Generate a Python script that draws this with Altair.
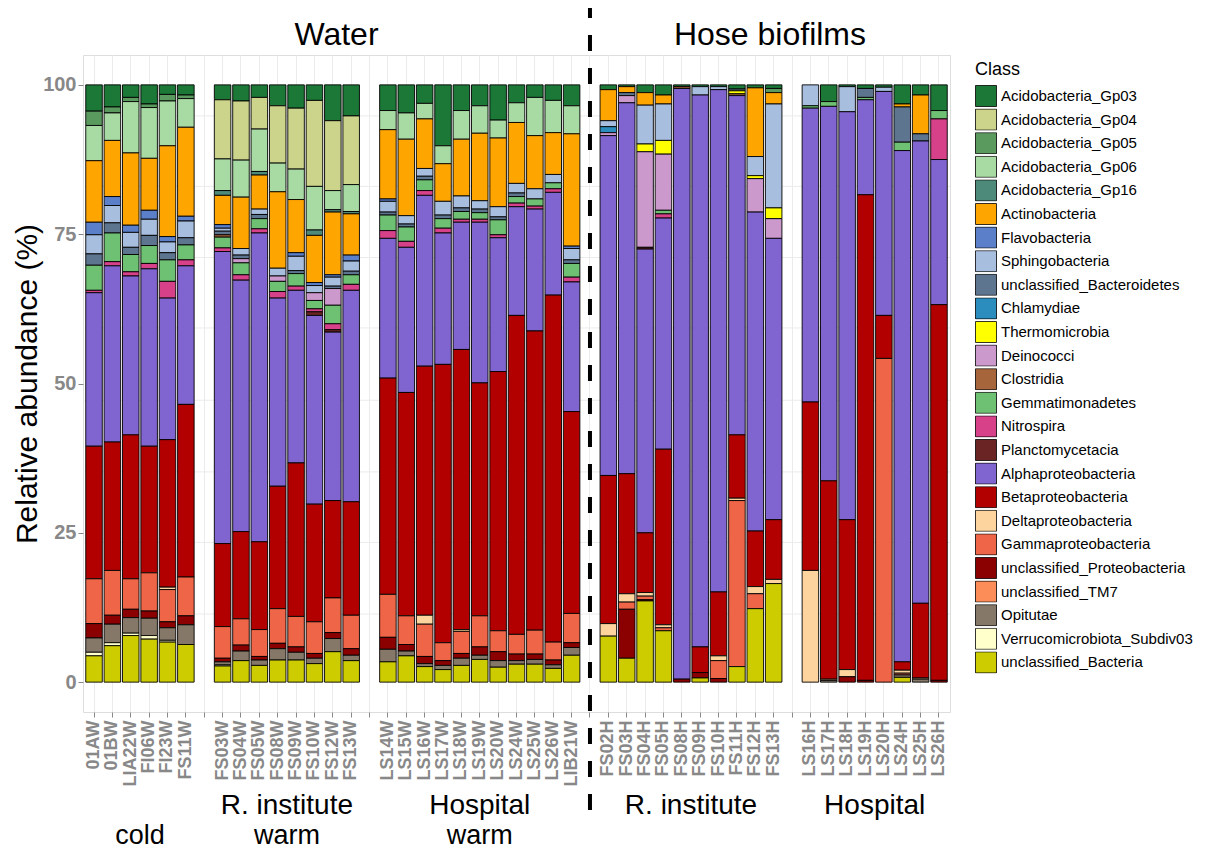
import altair as alt
import pandas as pd

# ---------------- categories ----------------
cold = ["01AW", "01BW", "LIA22W", "FI06W", "FI23W", "FS11W"]
r_warm = ["FS03W", "FS04W", "FS05W", "FS08W", "FS09W", "FS10W", "FS12W", "FS13W"]
h_warm = ["LS14W", "LS15W", "LS16W", "LS17W", "LS18W", "LS19W", "LS20W", "LS24W", "LS25W", "LS26W", "LIB21W"]
r_hose = ["FS02H", "FS03H", "FS04H", "FS05H", "FS08H", "FS09H", "FS10H", "FS11H", "FS12H", "FS13H"]
h_hose = ["LS16H", "LS17H", "LS18H", "LS19H", "LS20H", "LS24H", "LS25H", "LS26H"]
samples = cold + r_warm + h_warm + r_hose + h_hose
gaps = [" ", "  ", "   ", "    "]
x_domain = cold + [gaps[0]] + r_warm + [gaps[1]] + h_warm + [gaps[2]] + r_hose + [gaps[3]] + h_hose

classes = ["Acidobacteria_Gp03", "Acidobacteria_Gp04", "Acidobacteria_Gp05", "Acidobacteria_Gp06",
           "Acidobacteria_Gp16", "Actinobacteria", "Flavobacteria", "Sphingobacteria",
           "unclassified_Bacteroidetes", "Chlamydiae", "Thermomicrobia", "Deinococci", "Clostridia",
           "Gemmatimonadetes", "Nitrospira", "Planctomycetacia", "Alphaproteobacteria",
           "Betaproteobacteria", "Deltaproteobacteria", "Gammaproteobacteria",
           "unclassified_Proteobacteria", "unclassified_TM7", "Opitutae",
           "Verrucomicrobiota_Subdiv03", "unclassified_Bacteria"]
colors = ["#1b7837", "#ccd38a", "#5a9a5e", "#a8dba3", "#4d8a7a", "#ffa500", "#5b7fc8", "#a8bedf",
          "#5e7590", "#2b8cbe", "#ffff00", "#cc99cc", "#a6653a", "#6ec072", "#d6418a", "#6b2424",
          "#8064d0", "#b20000", "#fdd49e", "#ef6548", "#8b0000", "#fc8d59", "#857868", "#ffffcc",
          "#cccc00"]

# ---------------- values (%), one list per class, samples in order above ----------------
gp03 = [4.4, 3.7, 2.1, 3.2, 1.6, 1.7,
        2.5, 2.7, 2.1, 3.5, 3.9, 2.6, 6.0, 5.2,
        4.3, 4.7, 3.1, 10.2, 4.3, 3.5, 5.9, 3.0, 2.1, 2.6, 3.5,
        0.8, 0.3, 1.3, 1.7, 0.3, 0.3, 0.3, 0.7, 0.5, 0.6,
        0, 2.8, 0.3, 0.6, 0.4, 3.2, 1.7, 4.3]
gp04 = [0, 0, 0, 0, 0, 0,
        9.9, 9.9, 5.3, 9.6, 10.2, 14.4, 11.7, 11.5,
        0, 0, 0, 0, 0, 0, 0, 0, 0, 0, 0,
        0, 0, 0, 0, 0, 0, 0, 0, 0, 0,
        0, 0, 0, 0, 0, 0, 0, 0]
gp05 = [2.4, 1.0, 0.7, 0.6, 1.1, 0.6,
        0, 0, 0, 0, 0, 0, 0, 0,
        0, 0, 0, 0, 0, 0, 0, 0, 0, 0, 0,
        0, 0, 0, 0, 0, 0, 0, 0, 0, 0.7,
        0, 0, 0, 0, 0, 0, 0, 0]
gp06 = [5.9, 4.6, 8.6, 8.5, 7.5, 4.8,
        5.3, 6.2, 7.1, 4.8, 5.1, 7.3, 3.2, 4.5,
        3.2, 4.4, 2.6, 3.0, 4.8, 4.6, 3.0, 3.3, 6.4, 5.4, 4.7,
        0, 0, 0, 0, 0, 0, 0, 0, 0, 0,
        0, 0, 0, 0, 0, 0, 0, 0]
gp16 = [0, 0, 0, 0, 0, 0,
        0.8, 0, 0.6, 0, 0, 0.9, 0.4, 0.4,
        0, 0, 0, 0, 0, 0, 0, 0, 0, 0, 0,
        0, 0, 0, 0, 0, 0, 0, 0, 0, 0,
        0, 0, 0, 0, 0, 0, 0, 0]
actino = [10.3, 9.4, 12.1, 8.7, 15.2, 14.9,
          4.9, 8.6, 5.7, 12.8, 8.9, 7.9, 10.5, 6.9,
          11.6, 12.8, 8.3, 6.3, 9.5, 11.3, 11.5, 10.2, 8.9, 7.0, 18.8,
          5.2, 1.0, 2.1, 1.5, 0, 0, 0, 0, 11.5, 1.9,
          0, 0, 0, 0, 0, 0.5, 6.5, 0]
flavo = [2.1, 1.5, 1.2, 1.5, 0.9, 0.8,
         0.6, 0, 0, 0, 0.6, 0.5, 0.4, 1.0,
         0.4, 0, 0, 0, 0, 0, 0, 0, 0, 0, 0.4,
         0, 0, 0, 0, 0, 0, 0, 0, 0, 0,
         0, 0, 0, 0, 0, 0, 0, 0]
sphingo = [3.2, 2.9, 2.5, 2.7, 1.8, 2.8,
           0.5, 1.1, 0.9, 1.3, 2.4, 1.2, 1.5, 1.7,
           1.8, 1.4, 1.3, 2.3, 2.0, 1.4, 1.7, 1.6, 1.7, 1.4, 1.9,
           1.0, 0, 6.5, 6.1, 0, 1.4, 0.5, 0, 3.2, 17.4,
           3.5, 0, 4.2, 0, 0.7, 0, 0, 0]
u_bacteroidetes = [1.9, 1.7, 1.2, 1.7, 1.2, 1.2,
                   0.6, 0.6, 0.7, 0, 0.5, 0, 0.4, 0.6,
                   0.5, 0.5, 0.6, 0.6, 0.6, 0.6, 0.5, 0.6, 0, 0, 0.6,
                   0, 0.5, 0, 0, 0, 0, 0, 0.3, 0, 0,
                   0, 0, 0, 1.5, 0, 5.9, 1.2, 0]
chlamydiae = [0, 0, 0, 0, 0, 0,
              0, 0, 0, 0, 0, 0, 0, 0,
              0, 0, 0, 0, 0, 0, 0, 0, 0, 0, 0,
              1.0, 0, 0, 0, 0, 0, 0, 0, 0, 0,
              0, 0, 0, 0, 0, 0, 0, 0]
thermo = [0, 0, 0, 0, 0, 0,
          0, 0, 0, 0, 0, 0, 0, 0,
          0, 0, 0, 0, 0, 0, 0, 0, 0, 0, 0,
          0, 0, 1.3, 2.3, 0, 0, 0, 0.5, 0.5, 1.8,
          0, 0, 0, 0, 0, 0, 0, 0]
deino = [0, 0, 0, 0, 0, 0,
         0, 0.7, 0, 0.9, 0, 1.3, 2.8, 0,
         0, 0, 0, 0, 0, 0, 0, 0, 0, 0, 0,
         0.5, 1.2, 16.0, 9.4, 0, 0, 0, 0, 5.6, 3.3,
         0, 0, 0, 0, 0, 0, 0, 0]
clostridia = [0, 0, 0, 0, 0, 0,
              0.4, 0, 0, 0, 0, 0, 0, 0,
              0, 0, 0, 0, 0, 0, 0, 0, 0, 0, 0,
              0, 0, 0, 0, 0.3, 0, 0, 0.3, 0, 0,
              0, 0, 0, 0, 0, 0, 0, 0]
gemma = [4.2, 4.8, 2.9, 3.0, 3.6, 2.5,
         1.8, 2.0, 1.7, 1.7, 2.1, 1.4, 3.1, 1.6,
         2.6, 2.4, 1.8, 1.6, 1.3, 1.1, 2.5, 1.1, 1.2, 1.0, 2.3,
         0, 0, 0, 0.6, 0, 0, 0, 0, 0, 0,
         0.4, 0.8, 0, 0.4, 0, 1.4, 0, 1.4]
nitro = [0.4, 0.7, 0.7, 0.9, 2.8, 1.0,
         0.6, 0.9, 0.7, 1.1, 0.7, 0.5, 1.0, 1.0,
         1.3, 1.0, 0.8, 0.8, 0.5, 0.5, 0.5, 0.6, 0.5, 0.6, 0.8,
         0, 0, 0, 0.7, 0, 0, 0, 0, 0, 0,
         0, 0, 0, 0, 0, 0, 0, 6.8]
plancto = [0, 0, 0, 0, 0, 0,
           0, 0, 0, 0, 0, 0.6, 0.4, 0,
           0, 0, 0, 0, 0, 0, 0, 0, 0, 0, 0,
           0, 0, 0.3, 0, 0, 0, 0, 0, 0, 0,
           0, 0, 0, 0, 0, 0, 0, 0]
alpha = [25.7, 29.5, 26.6, 29.7, 23.7, 23.2,
         48.9, 42.1, 51.7, 31.5, 28.9, 31.6, 28.2, 35.4,
         23.4, 24.3, 28.6, 22.0, 21.3, 26.9, 22.4, 18.2, 20.4, 17.2, 21.7,
         56.9, 62.1, 47.5, 38.7, 98.9, 92.4, 84.1, 56.8, 53.4, 47.1,
         49.2, 62.7, 68.3, 15.9, 37.5, 85.6, 77.4, 24.3]
beta = [22.2, 21.5, 24.1, 21.2, 24.7, 28.9,
        13.9, 14.6, 14.7, 20.5, 25.7, 19.7, 16.3, 19.0,
        36.2, 37.4, 41.7, 46.6, 46.9, 39.0, 43.4, 53.4, 50.1, 58.1, 33.8,
        24.8, 20.1, 10.0, 29.4, 0, 4.3, 10.7, 10.6, 9.3, 10.0,
        28.2, 33.2, 25.1, 81.3, 7.2, 1.4, 12.5, 62.9]
delta = [0, 0, 0, 0, 0.4, 0,
         0, 0, 0, 0, 0, 0, 0, 0,
         0, 0, 1.5, 0, 0.3, 0, 0, 0, 0, 0, 0,
         2.1, 1.4, 0.6, 0.5, 0, 0, 0.8, 0.4, 1.2, 0.7,
         18.7, 0.2, 1.2, 0, 0, 0.5, 0.2, 0]
gamma = [7.5, 7.5, 5.1, 6.4, 5.4, 6.5,
         5.3, 4.4, 4.5, 5.8, 5.1, 5.3, 5.8, 5.6,
         7.2, 4.8, 5.4, 3.0, 3.7, 5.2, 3.5, 3.3, 4.0, 3.0, 4.9,
         0, 1.2, 0.6, 0.5, 0, 0, 3.0, 27.8, 2.5, 0,
         0, 0, 0, 0, 54.2, 0.3, 0, 0]
u_proteo = [2.4, 1.5, 1.4, 1.2, 1.0, 1.5,
            0.6, 1.0, 0.6, 0.9, 0.9, 0.8, 1.0, 1.1,
            2.0, 1.1, 1.2, 0.8, 0.8, 1.4, 1.5, 1.1, 0.9, 0.8, 0.8,
            0, 8.2, 0.2, 0, 0.5, 0.9, 0.6, 0, 0, 0,
            0, 0, 0.9, 0.3, 0, 0, 0, 0.3]
u_tm7 = [0] * 43
opitutae = [2.4, 3.1, 2.6, 2.9, 2.1, 3.3,
            0.5, 1.6, 0.9, 1.9, 1.3, 0.9, 2.2, 0.9,
            2.1, 0.8, 0.5, 0.7, 1.2, 0.7, 1.1, 0.6, 0.8, 0.6, 1.3,
            0, 0, 0, 0, 0, 0, 0, 0, 0, 0,
            0, 0.3, 0, 0, 0, 0.4, 0.5, 0]
verruco = [0.6, 0.5, 0.4, 0.6, 0.3, 0,
           0.2, 0, 0, 0, 0, 0, 0, 0,
           0, 0, 0, 0, 0, 0, 0, 0, 0, 0, 0,
           0, 0, 0, 0, 0, 0, 0, 0, 0, 0,
           0, 0, 0, 0, 0, 0, 0, 0]
u_bacteria = [4.4, 6.1, 7.8, 7.2, 6.7, 6.3,
              2.7, 3.6, 2.8, 3.7, 3.7, 3.1, 5.1, 3.6,
              3.4, 4.4, 2.6, 2.1, 2.8, 3.8, 2.5, 3.0, 3.0, 2.3, 4.5,
              7.7, 4.0, 13.6, 8.6, 0, 0.7, 0, 2.6, 12.3, 16.5,
              0, 0, 0, 0, 0, 0.8, 0, 0]

series = [gp03, gp04, gp05, gp06, gp16, actino, flavo, sphingo, u_bacteroidetes, chlamydiae,
          thermo, deino, clostridia, gemma, nitro, plancto, alpha, beta, delta, gamma,
          u_proteo, u_tm7, opitutae, verruco, u_bacteria]

grid_y = [11.4, 23.4, 35.2, 47.2, 59.3, 71.1, 83.0, 94.8]
y_ticks = [0, 25, 50, 75, 100]
Y_TITLE = "Relative abundance (%)"

rows = []
for rank, (cls, vals) in enumerate(zip(classes, series)):
    for s, v in zip(samples, vals):
        if v > 0:
            rows.append({"sample": s, "cls": cls, "value": v, "rank": rank})
df = pd.DataFrame(rows)

W, H = 867, 657
FONT = "Liberation Sans"
step = W / (len(x_domain) - 0.1 + 2 * 0.15)
xs = alt.Scale(domain=x_domain, paddingInner=0.1, paddingOuter=0.15)
ys = alt.Scale(domain=[-5, 105], nice=False, zero=False)

y_axis = alt.Axis(values=y_ticks, labelFont=FONT, labelFontSize=20, labelFontWeight="bold",
                  labelColor="#888888", tickColor="#888888", tickSize=5, labelPadding=2,
                  grid=False, domain=False, titleFont=FONT, titleFontSize=30,
                  titleFontWeight="normal", titleColor="black", titlePadding=0)
x_axis = alt.Axis(labelAngle=-90, labelFont=FONT, labelFontSize=18, labelFontWeight="bold",
                  labelColor="#888888", tickColor="#888888", tickSize=5, labelPadding=3,
                  grid=True, gridColor="#ebebeb", domain=False)

grid = alt.Chart(pd.DataFrame({"g": grid_y})).mark_rule(color="#ebebeb", strokeWidth=1).encode(
    y=alt.Y("g:Q", scale=ys, axis=y_axis, title=Y_TITLE)
)

bars = alt.Chart(df).mark_bar(stroke="black", strokeWidth=0.9).encode(
    x=alt.X("sample:N", scale=xs, title=None, axis=x_axis),
    y=alt.Y("value:Q", stack="zero", scale=ys, title=Y_TITLE, axis=y_axis),
    color=alt.Color("cls:N", scale=alt.Scale(domain=classes, range=colors),
                    legend=alt.Legend(title="Class", orient="none", legendX=892, legendY=6,
                                      titleFont=FONT, titleFontSize=18, titleFontWeight="normal",
                                      titleColor="black", labelFont=FONT, labelFontSize=15,
                                      labelColor="black", symbolType="square", symbolSize=441,
                                      symbolStrokeColor="black", symbolStrokeWidth=0.8,
                                      symbolOpacity=1, clipHeight=22, rowPadding=1.6,
                                      titlePadding=6, labelLimit=400)),
    order=alt.Order("rank:Q", sort="descending"),
)

dash_idx = x_domain.index(gaps[2])
dash = alt.Chart(pd.DataFrame({"sample": [gaps[2]]})).mark_rule(
    color="black", strokeWidth=4, strokeDash=[16, 17], clip=False
).encode(x=alt.X("sample:N", scale=xs, title=None, axis=x_axis), y=alt.value(-53), y2=alt.value(757))

dash_x = step * (dash_idx + 0.6)
layers = [grid, bars, dash]


def label(text, px, py, size):
    return alt.Chart(pd.DataFrame({"t": [text]})).mark_text(
        font=FONT, fontSize=size, color="black", align="center", baseline="middle", clip=False
    ).encode(text="t:N", x=alt.value(px), y=alt.value(py))


layers.append(label("Water", dash_x / 2, -20, 32))
layers.append(label("Hose biofilms", (dash_x + W) / 2, -20, 32))

group_text = [(cold, "", "cold"), (r_warm, "R. institute", "warm"), (h_warm, "Hospital", "warm"),
              (r_hose, "R. institute", ""), (h_hose, "Hospital", "")]
for members, line1, line2 in group_text:
    i0 = x_domain.index(members[0])
    i1 = x_domain.index(members[-1])
    cx = step * ((i0 + i1) / 2 + 0.6)
    if line1:
        layers.append(label(line1, cx, 751, 28))
    if line2:
        layers.append(label(line2, cx, 781, 27))

chart = alt.layer(*layers).properties(
    width=W, height=H,
    autosize=alt.AutoSizeParams(type="none"),
    padding={"left": 75, "top": 47, "right": 247, "bottom": 139},
).configure_view(stroke="#8c8c8c", strokeWidth=1).configure(background="white")

chart.save("out.html", embed_options={"renderer": "svg", "actions": False})
